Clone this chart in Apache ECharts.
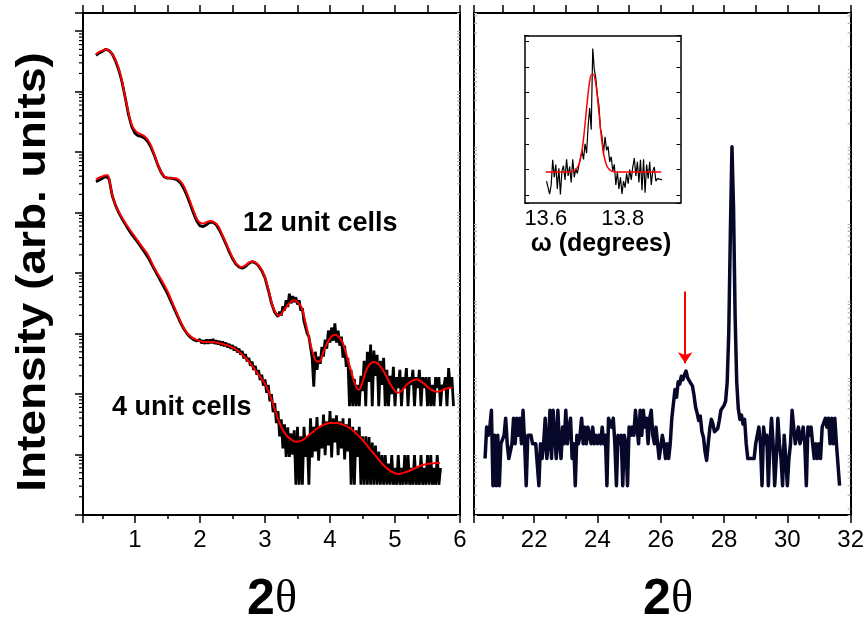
<!DOCTYPE html>
<html><head><meta charset="utf-8">
<script src="https://cdn.jsdelivr.net/npm/echarts@6/dist/echarts.min.js"></script>
<style>html,body{margin:0;padding:0;background:#fff}#c{width:867px;height:625px}</style>
</head><body><div id="c"></div><script>
// Low-angle reflectivity, values are log10(intensity) against 2theta (deg)
const fit12 = [[0.40,7.62],[0.45,7.66],[0.50,7.68],[0.56,7.70],[0.62,7.66],[0.66,7.60],[0.70,7.53],[0.75,7.38],[0.80,7.18],[0.87,6.80],[0.95,6.45],[1.02,6.34],[1.10,6.29],[1.15,6.26],[1.20,6.20],[1.25,6.10],[1.30,5.95],[1.35,5.80],[1.42,5.64],[1.48,5.58],[1.55,5.57],[1.62,5.57],[1.68,5.54],[1.74,5.46],[1.80,5.32],[1.86,5.15],[1.92,4.98],[1.98,4.85],[2.04,4.82],[2.10,4.84],[2.16,4.86],[2.22,4.84],[2.28,4.78],[2.34,4.64],[2.40,4.50],[2.46,4.35],[2.52,4.22],[2.58,4.13],[2.64,4.10],[2.70,4.13],[2.76,4.18],[2.82,4.19],[2.88,4.15],[2.94,4.07],[3.00,3.93],[3.06,3.70],[3.12,3.45],[3.18,3.32],[3.22,3.30],[3.28,3.37],[3.34,3.46],[3.40,3.53],[3.45,3.55],[3.50,3.52],[3.56,3.44],[3.62,3.20],[3.68,2.92],[3.74,2.67],[3.80,2.54],[3.84,2.54],[3.90,2.70],[3.96,2.85],[4.02,2.95],[4.08,2.98],[4.14,2.94],[4.20,2.84],[4.26,2.62],[4.32,2.40],[4.38,2.18],[4.44,2.07],[4.50,2.20],[4.56,2.40],[4.62,2.50],[4.68,2.53],[4.74,2.50],[4.80,2.42],[4.86,2.31],[4.92,2.18],[4.98,2.08],[5.04,2.02],[5.10,2.05],[5.16,2.13],[5.22,2.19],[5.28,2.23],[5.34,2.24],[5.40,2.21],[5.46,2.16],[5.52,2.10],[5.58,2.06],[5.64,2.04],[5.70,2.05],[5.76,2.08],[5.82,2.10],[5.88,2.11]];

const scan12 = [[0.40,7.60],[0.45,7.64],[0.50,7.67],[0.55,7.70],[0.60,7.68],[0.65,7.62],[0.70,7.51],[0.75,7.36],[0.80,7.16],[0.85,6.90],[0.90,6.62],[0.95,6.42],[1.00,6.31],[1.05,6.27],[1.10,6.26],[1.15,6.23],[1.20,6.17],[1.25,6.07],[1.30,5.94],[1.35,5.79],[1.40,5.67],[1.45,5.59],[1.50,5.57],[1.55,5.57],[1.60,5.56],[1.65,5.54],[1.70,5.49],[1.75,5.40],[1.80,5.28],[1.85,5.14],[1.90,4.99],[1.95,4.86],[2.00,4.78],[2.05,4.77],[2.10,4.80],[2.15,4.84],[2.20,4.84],[2.25,4.80],[2.30,4.71],[2.35,4.60],[2.40,4.48],[2.45,4.35],[2.50,4.24],[2.55,4.15],[2.60,4.10],[2.65,4.08],[2.70,4.11],[2.75,4.16],[2.80,4.19],[2.85,4.17],[2.90,4.12],[2.95,4.04],[3.00,3.92],[3.05,3.72],[3.10,3.50],[3.15,3.35],
[3.200,3.28],[3.225,3.36],[3.250,3.30],[3.275,3.45],[3.300,3.38],[3.325,3.55],[3.350,3.44],[3.375,3.66],[3.400,3.50],[3.425,3.62],[3.450,3.52],[3.475,3.60],[3.500,3.48],[3.525,3.55],[3.550,3.38],[3.575,3.42],[3.600,3.20],[3.625,3.22],[3.650,3.00],[3.675,2.95],[3.700,2.78],
[3.725,2.60],[3.750,2.12],[3.775,2.70],[3.800,2.40],[3.825,2.62],[3.850,2.50],[3.875,2.78],[3.900,2.62],[3.925,2.90],[3.950,2.75],[3.975,3.05],[4.000,2.85],[4.025,3.10],[4.050,2.88],[4.075,3.17],[4.100,2.85],[4.125,3.05],[4.150,2.80],[4.175,2.95],[4.200,2.60],[4.225,2.80],[4.250,2.45],[4.275,2.60],[4.300,1.80],
[4.325,2.40],[4.350,1.80],[4.375,2.25],[4.400,1.80],[4.425,2.15],[4.450,1.80],[4.475,2.30],[4.500,2.05],[4.525,2.55],[4.550,1.80],[4.575,2.70],[4.600,2.20],[4.625,2.82],[4.650,1.80],[4.675,2.72],[4.700,2.30],[4.725,2.65],[4.750,1.80],[4.775,2.55],[4.800,2.15],[4.825,2.60],[4.850,1.80],[4.875,2.40],[4.900,1.80],[4.925,2.30],[4.950,2.00],[4.975,2.45],
[5.000,1.80],[5.025,2.28],[5.050,2.10],[5.075,2.40],[5.100,1.80],[5.125,2.28],[5.150,2.10],[5.175,2.43],[5.200,1.80],[5.225,2.28],[5.250,2.15],[5.275,2.40],[5.300,1.80],[5.325,2.28],[5.350,2.10],[5.375,2.40],[5.400,1.80],[5.425,2.28],[5.450,2.10],[5.475,2.28],[5.500,1.80],[5.525,2.28],[5.550,1.80],[5.575,2.15],[5.600,1.80],[5.625,2.28],[5.650,2.10],[5.675,2.28],[5.700,1.80],[5.725,2.15],[5.750,2.10],[5.775,2.28],[5.800,1.80],[5.825,2.43],[5.850,2.10],[5.875,2.28],[5.900,1.80]];

const fit4 = [[0.40,5.55],[0.45,5.58],[0.50,5.60],[0.55,5.62],[0.58,5.62],[0.62,5.45],[0.66,5.25],[0.72,5.08],[0.80,4.92],[0.90,4.75],[1.00,4.60],[1.10,4.45],[1.20,4.30],[1.30,4.08],[1.40,3.90],[1.50,3.70],[1.60,3.45],[1.70,3.20],[1.78,3.04],[1.86,2.95],[1.94,2.90],[2.02,2.87],[2.10,2.86],[2.20,2.86],[2.30,2.84],[2.40,2.81],[2.50,2.77],[2.60,2.70],[2.70,2.60],[2.80,2.47],[2.90,2.32],[3.00,2.17],[3.08,1.97],[3.16,1.72],[3.24,1.48],[3.32,1.33],[3.40,1.25],[3.48,1.21],[3.56,1.23],[3.64,1.29],[3.72,1.36],[3.80,1.43],[3.90,1.49],[4.00,1.52],[4.10,1.52],[4.20,1.49],[4.30,1.44],[4.40,1.35],[4.50,1.24],[4.60,1.11],[4.70,0.98],[4.80,0.85],[4.90,0.75],[5.00,0.69],[5.06,0.68],[5.14,0.70],[5.24,0.74],[5.34,0.79],[5.44,0.83],[5.54,0.85],[5.64,0.86],[5.69,0.86]];

const scan4 = [[0.40,5.51],[0.45,5.54],[0.50,5.57],[0.55,5.60],[0.60,5.56],[0.65,5.28],[0.70,5.12],[0.75,5.00],[0.80,4.90],[0.85,4.81],[0.90,4.72],[0.95,4.64],[1.00,4.57],[1.05,4.50],[1.10,4.42],[1.15,4.34],[1.20,4.26],[1.25,4.16],[1.30,4.06],[1.35,3.96],[1.40,3.86],[1.45,3.76],[1.50,3.66],[1.55,3.54],[1.60,3.42],[1.65,3.30],[1.70,3.18],[1.75,3.08],[1.80,3.00],[1.85,2.94],[1.90,2.90],[1.95,2.88],
[2.000,2.90],[2.025,2.84],[2.050,2.89],[2.075,2.83],[2.100,2.90],[2.125,2.83],[2.150,2.90],[2.175,2.84],[2.200,2.91],[2.225,2.83],[2.250,2.89],[2.275,2.82],[2.300,2.88],[2.325,2.80],[2.350,2.87],[2.375,2.79],[2.400,2.85],[2.425,2.77],[2.450,2.83],[2.475,2.75],[2.500,2.81],[2.525,2.72],[2.550,2.78],[2.575,2.69],[2.600,2.75],[2.625,2.65],[2.650,2.71],[2.675,2.59],[2.700,2.66],[2.725,2.54],[2.750,2.60],[2.775,2.47],[2.800,2.54],[2.825,2.40],[2.850,2.47],[2.875,2.32],[2.900,2.40],[2.925,2.23],[2.950,2.32],[2.975,2.14],[3.000,2.24],
[3.025,2.02],[3.050,2.15],[3.075,1.88],[3.100,2.00],[3.125,1.70],[3.150,1.85],[3.175,1.52],[3.200,1.72],[3.225,1.30],[3.250,1.58],[3.275,1.10],[3.300,1.50],[3.325,0.96],[3.350,1.45],[3.375,0.96],[3.400,1.35],[3.425,1.00],[3.450,1.40],[3.475,0.50],[3.500,1.46],[3.525,0.50],[3.550,1.30],[3.575,0.50],[3.600,1.46],[3.625,0.96],[3.650,1.30],[3.675,0.50],[3.700,1.60],[3.725,0.95],[3.750,1.46],[3.775,1.05],[3.800,1.62],[3.825,0.90],[3.850,1.46],[3.875,1.10],[3.900,1.66],[3.925,0.99],[3.950,1.55],[3.975,1.15],[4.000,1.72],[4.025,0.95],[4.050,1.60],[4.075,1.20],[4.100,1.65],[4.125,0.99],[4.150,1.55],[4.175,1.10],[4.200,1.60],[4.225,0.92],[4.250,1.50],[4.275,1.05],[4.300,1.60],
[4.325,0.50],[4.350,1.46],[4.375,0.50],[4.400,1.40],[4.425,0.96],[4.450,1.46],[4.475,0.50],[4.500,1.30],[4.525,0.50],[4.550,1.30],[4.575,0.50],[4.600,1.29],[4.625,0.50],[4.650,1.20],[4.675,0.50],[4.700,1.15],[4.725,0.50],[4.750,1.05],[4.775,0.50],[4.800,0.99],[4.825,0.50],[4.850,0.99],[4.875,0.50],[4.900,0.85],[4.925,0.50],[4.950,0.99],[4.975,0.50],[5.000,0.78],[5.025,0.50],[5.050,0.99],[5.075,0.50],[5.100,0.78],[5.125,0.50],[5.150,0.99],[5.175,0.50],[5.200,0.99],[5.225,0.50],[5.250,0.78],[5.275,0.50],[5.300,0.99],[5.325,0.50],[5.350,0.78],[5.375,0.50],[5.400,0.99],[5.425,0.50],[5.450,0.78],[5.475,0.50],[5.500,0.99],[5.525,0.50],[5.550,0.99],[5.575,0.50],[5.600,0.78],[5.625,0.50],[5.650,0.99],[5.675,0.50],[5.700,0.78]];

// Wide-angle scan: [2theta, counts]
const xrd = [[20.45,9],[20.50,23],[20.55,18],[20.60,23],[20.65,38],[20.70,4],[20.75,18],[20.80,4],[20.85,18],[20.90,4],[20.95,14],
[21.00,14],[21.05,18],[21.10,30],[21.15,14],[21.20,9],[21.25,9],[21.30,14],[21.35,30],[21.40,14],[21.45,30],[21.50,18],[21.55,30],[21.60,14],[21.65,38],[21.70,14],[21.75,4],[21.80,18],[21.85,18],[21.90,18],[21.95,14],
[22.00,14],[22.05,14],[22.10,14],[22.15,4],[22.20,14],[22.25,9],[22.30,14],[22.35,30],[22.40,9],[22.45,14],[22.50,38],[22.55,9],[22.60,38],[22.65,38],[22.70,9],[22.75,38],[22.80,14],[22.85,9],[22.90,23],[22.95,14],
[23.00,38],[23.05,14],[23.10,23],[23.15,30],[23.20,9],[23.25,14],[23.30,4],[23.35,18],[23.40,14],[23.45,18],[23.50,30],[23.55,14],[23.60,23],[23.65,14],[23.70,23],[23.75,18],[23.80,14],[23.85,23],[23.90,14],[23.95,18],
[24.00,14],[24.05,18],[24.10,14],[24.15,23],[24.20,14],[24.25,18],[24.30,4],[24.35,30],[24.40,30],[24.45,23],[24.50,30],[24.55,14],[24.60,4],[24.65,18],[24.70,14],[24.75,18],[24.80,4],[24.85,18],[24.90,14],[24.95,4],
[25.00,23],[25.05,18],[25.10,23],[25.15,18],[25.20,38],[25.25,23],[25.30,14],[25.35,38],[25.40,18],[25.45,38],[25.50,23],[25.55,30],[25.60,14],[25.65,30],[25.70,38],[25.75,18],[25.80,14],[25.85,23],[25.90,14],[25.95,9],
[26.00,9],[26.05,18],[26.10,14],[26.15,9],[26.20,14],[26.25,9],[26.30,14],[26.35,30],[26.40,29],[26.45,71],[26.50,56],[26.55,89],[26.60,83],[26.65,105],[26.70,95],[26.75,110],[26.80,123],[26.85,100],[26.90,105],[26.95,85],
[27.00,79],[27.05,60],[27.10,42],[27.15,35],[27.20,28],[27.25,32],[27.30,20],[27.35,17],[27.40,11],[27.45,8.5],[27.50,14],[27.55,22],[27.60,29],[27.65,25],[27.70,20],[27.75,19],[27.80,22],[27.85,28],[27.90,38],[27.95,40],
[28.00,44],[28.05,50],[28.10,89],[28.15,400],[28.20,7900],[28.25,100000],[28.30,16000],[28.35,630],[28.40,89],[28.45,40],[28.50,29],[28.55,33],[28.60,25],[28.65,29],[28.70,14],[28.75,9],[28.80,9],[28.85,9],[28.90,9],[28.95,9],
[29.00,14],[29.05,14],[29.10,23],[29.15,14],[29.20,4],[29.25,23],[29.30,14],[29.35,18],[29.40,4],[29.45,14],[29.50,30],[29.55,14],[29.60,4],[29.65,9],[29.70,30],[29.75,14],[29.80,9],[29.85,4],[29.90,18],[29.95,9],
[30.00,4],[30.05,9],[30.10,14],[30.15,38],[30.20,38],[30.25,14],[30.30,18],[30.35,23],[30.40,14],[30.45,14],[30.50,23],[30.55,14],[30.60,4],[30.65,23],[30.70,18],[30.75,23],[30.80,14],[30.85,9],[30.90,14],[30.95,9],
[31.00,14],[31.05,9],[31.10,23],[31.15,23],[31.20,30],[31.25,23],[31.30,30],[31.35,14],[31.40,30],[31.45,14],[31.50,30],[31.55,14],[31.60,14],[31.65,4]];

// Rocking curve (inset): [omega, intensity]
const rock = [[13.602,0.55],[13.606,0.30],[13.610,0.05],[13.614,0.40],[13.618,1.38],[13.622,0.70],[13.626,1.20],[13.630,0.25],[13.634,1.05],[13.638,0.03],[13.642,0.95],[13.646,1.15],[13.650,0.60],[13.654,1.40],[13.658,0.75],[13.662,1.12],[13.666,0.50],[13.670,1.40],[13.674,0.70],[13.678,1.05],[13.682,0.85],[13.686,1.15],[13.690,1.10],[13.694,1.75],[13.698,1.40],[13.702,2.00],[13.706,1.64],[13.710,2.70],[13.714,3.40],[13.718,2.55],[13.722,5.71],[13.726,4.90],[13.730,4.55],[13.734,3.90],[13.738,3.50],[13.742,2.60],[13.746,2.30],[13.750,1.65],[13.754,2.28],[13.758,1.75],[13.762,1.90],[13.766,1.30],[13.770,1.50],[13.774,0.95],[13.778,1.20],[13.782,0.40],[13.786,0.90],[13.790,0.25],[13.794,0.70],[13.798,0.05],[13.802,0.55],[13.806,0.30],[13.810,0.85],[13.814,0.45],[13.818,1.00],[13.822,0.60],[13.826,1.10],[13.830,1.45],[13.834,0.75],[13.838,1.30],[13.842,0.50],[13.846,1.38],[13.850,0.20],[13.854,1.40],[13.858,0.10],[13.862,1.20],[13.866,0.65],[13.870,1.30],[13.874,0.40],[13.878,0.95],[13.882,1.10],[13.886,0.55],[13.890,0.65],[13.894,0.60],[13.898,0.62],[13.902,0.60]];
const rockFit = [[13.600,0.91],[13.650,0.91],[13.665,0.92],[13.674,0.95],[13.679,1.02],[13.684,1.13],[13.689,1.36],[13.694,1.73],[13.699,2.33],[13.704,3.08],[13.709,3.83],[13.714,4.43],[13.719,4.70],[13.724,4.70],[13.729,4.43],[13.734,3.83],[13.739,3.08],[13.744,2.33],[13.749,1.73],[13.754,1.36],[13.759,1.13],[13.764,1.02],[13.769,0.95],[13.778,0.92],[13.800,0.91],[13.900,0.91]];

// marker on the weak reflection near 26.8 deg
const arrowX = 26.77, arrowFrom = 1320, arrowTo = 155;

// axis ranges
const lowRange = [0.2, 6], lowIntensity = [1, 2e8];
const wideRange = [20.1, 32], wideIntensity = [1.664, 5.45e6];
const rockRange = [13.546, 13.95], rockIntensity = [-0.3, 6.22];

const pow10 = a => a.map(([x, e]) => [x, Math.pow(10, e)]);
const FONT = 'Liberation Sans, Arial, sans-serif';

// 2..9 x 10^k minor positions inside a log range
function logMinors(lo, hi) {
  const out = [];
  for (let k = Math.floor(Math.log10(lo)); k <= Math.ceil(Math.log10(hi)); k++) {
    for (let m = 2; m <= 9; m++) {
      const v = m * Math.pow(10, k);
      if (v > lo && v < hi) out.push(v);
    }
  }
  return out;
}
// short tick marks drawn against the axis at x = edge; dir -1 points left, +1 points right
function minorTicks(xi, yi, edge, values, dir, len, color) {
  return {
    type: 'custom', xAxisIndex: xi, yAxisIndex: yi, silent: true, clip: false, z: 4,
    data: values.map(v => [edge, v]),
    renderItem: function (params, api) {
      const p = api.coord([api.value(0), api.value(1)]);
      return {type: 'line', shape: {x1: p[0], y1: p[1], x2: p[0] + dir * len, y2: p[1]},
        style: {stroke: color, lineWidth: 1.2}};
    }
  };
}

function xAx(grid, pos, range, labels, extra) {
  return Object.assign({
    type: 'value', gridIndex: grid, position: pos, min: range[0], max: range[1],
    axisLine: {show: true, onZero: false, lineStyle: {color: '#000', width: 2}},
    axisTick: {show: true, inside: false, length: 8, lineStyle: {color: '#000', width: 1.5}},
    minorTick: {show: true, splitNumber: 2, length: pos === 'top' ? 8 : 4, lineStyle: {color: '#000', width: 1.5}},
    splitLine: {show: false}, minorSplitLine: {show: false},
    axisLabel: labels ? {show: true, fontSize: 24, color: '#000', fontFamily: FONT, margin: 13, showMinLabel: false} : {show: false}
  }, extra || {});
}
function yLog(grid, pos, range, main) {
  return {
    type: 'log', logBase: 10, gridIndex: grid, position: pos, min: range[0], max: range[1],
    axisLine: {show: true, onZero: false, lineStyle: {color: '#000', width: 2}},
    axisTick: {show: true, inside: !main, length: main ? 8 : 3, lineStyle: {color: main ? '#000' : '#b0b0b0', width: main ? 1.5 : 1}},
    minorTick: {show: false},
    splitLine: {show: false}, minorSplitLine: {show: false},
    axisLabel: {show: false}
  };
}
function yLin(pos) {
  return {type: 'value', gridIndex: 2, position: pos, min: rockIntensity[0], max: rockIntensity[1], z: 6,
    axisLine: {onZero: false, lineStyle: {color: '#000', width: 1.5}},
    axisTick: {inside: true, length: 4, lineStyle: {color: '#000'}},
    axisLabel: {show: false}, splitLine: {show: false}};
}

const lowMinor = logMinors(lowIntensity[0], lowIntensity[1]);
const wideMinor = logMinors(wideIntensity[0], wideIntensity[1]);
const faint = '#b0b0b0';

const chart = echarts.init(document.getElementById('c'), null, {renderer: 'canvas'});
chart.setOption({
  animation: false,
  backgroundColor: '#fff',
  grid: [
    {left: 83, top: 13, width: 377, height: 502},
    {left: 474, top: 13, width: 378, height: 502},
    {left: 525, top: 35.5, width: 155.5, height: 167.5, show: true, backgroundColor: '#fff', borderWidth: 0, z: 5}
  ],
  xAxis: [
    xAx(0, 'bottom', lowRange, true, {splitNumber: 6}),
    xAx(0, 'top', lowRange, false, {splitNumber: 6}),
    xAx(1, 'bottom', wideRange, true, {splitNumber: 6}),
    xAx(1, 'top', wideRange, false, {splitNumber: 6}),
    {type: 'value', gridIndex: 2, position: 'bottom', min: rockRange[0], max: rockRange[1], splitNumber: 2, z: 6,
     axisLine: {onZero: false, lineStyle: {color: '#000', width: 1.5}}, axisTick: {show: false}, splitLine: {show: false},
     axisLabel: {fontSize: 22, color: '#000', fontFamily: FONT, margin: 5, showMinLabel: false, showMaxLabel: false}},
    {type: 'value', gridIndex: 2, position: 'top', min: rockRange[0], max: rockRange[1], z: 6,
     axisLine: {onZero: false, lineStyle: {color: '#000', width: 1.5}}, axisTick: {show: false}, axisLabel: {show: false}, splitLine: {show: false}}
  ],
  yAxis: [
    yLog(0, 'left', lowIntensity, true),
    yLog(0, 'right', lowIntensity, false),
    yLog(1, 'left', wideIntensity, false),
    yLog(1, 'right', wideIntensity, false),
    yLin('left'),
    yLin('right')
  ],
  series: [
    {type: 'line', xAxisIndex: 0, yAxisIndex: 0, data: pow10(scan12), symbol: 'none', lineStyle: {color: '#000', width: 2.8}, z: 2},
    {type: 'line', xAxisIndex: 0, yAxisIndex: 0, data: pow10(scan4), symbol: 'none', lineStyle: {color: '#000', width: 2.8}, z: 2},
    {type: 'line', xAxisIndex: 0, yAxisIndex: 0, data: pow10(fit12), symbol: 'none', smooth: 0.4, lineStyle: {color: '#ff0000', width: 2}, z: 3},
    {type: 'line', xAxisIndex: 0, yAxisIndex: 0, data: pow10(fit4), symbol: 'none', smooth: 0.4, lineStyle: {color: '#ff0000', width: 2}, z: 3},
    {type: 'line', xAxisIndex: 2, yAxisIndex: 2, data: xrd, symbol: 'none', lineStyle: {color: '#07072a', width: 3.5, join: 'round'}, z: 2,
     markLine: {silent: true, symbol: ['none', 'arrow'], symbolSize: 11, label: {show: false},
       lineStyle: {color: '#ff0000', width: 2, type: 'solid'},
       data: [[{coord: [arrowX, arrowFrom]}, {coord: [arrowX, arrowTo]}]]}},
    {type: 'line', xAxisIndex: 4, yAxisIndex: 4, data: rock, symbol: 'none', lineStyle: {color: '#000', width: 1.2}, z: 7},
    {type: 'line', xAxisIndex: 4, yAxisIndex: 4, data: rockFit, symbol: 'none', smooth: 0.3, lineStyle: {color: '#ff0000', width: 1.5}, z: 8},
    minorTicks(0, 0, lowRange[0], lowMinor, -1, 4, '#000'),
    minorTicks(0, 0, lowRange[1], lowMinor, -1, 3, faint),
    minorTicks(2, 2, wideRange[0], wideMinor, 1, 3, faint),
    minorTicks(2, 2, wideRange[1], wideMinor, -1, 3, faint)
  ],
  graphic: [
    {type: 'text', x: 34, y: 272, rotation: Math.PI / 2, scaleX: 1.15, style: {text: 'Intensity (arb. units)', font: 'bold 40px ' + FONT, fill: '#000', align: 'center', verticalAlign: 'middle'}},
    {type: 'text', x: 243, y: 224, style: {text: '12 unit cells', font: 'bold 27px ' + FONT, fill: '#000', align: 'left', verticalAlign: 'middle'}},
    {type: 'text', x: 112, y: 408, style: {text: '4 unit cells', font: 'bold 27px ' + FONT, fill: '#000', align: 'left', verticalAlign: 'middle'}},
    {type: 'text', x: 601, y: 244, z: 10, style: {text: 'ω (degrees)', font: 'bold 25px ' + FONT, fill: '#000', align: 'center', verticalAlign: 'middle'}},
    {type: 'text', x: 272, y: 600, style: {text: '{a|2}{b|θ}', align: 'center', verticalAlign: 'middle',
      rich: {a: {font: 'bold 50px ' + FONT, fill: '#000'}, b: {font: '46px Liberation Serif, serif', fill: '#000'}}}},
    {type: 'text', x: 668, y: 600, style: {text: '{a|2}{b|θ}', align: 'center', verticalAlign: 'middle',
      rich: {a: {font: 'bold 50px ' + FONT, fill: '#000'}, b: {font: '46px Liberation Serif, serif', fill: '#000'}}}}
  ]
});
</script></body></html>
